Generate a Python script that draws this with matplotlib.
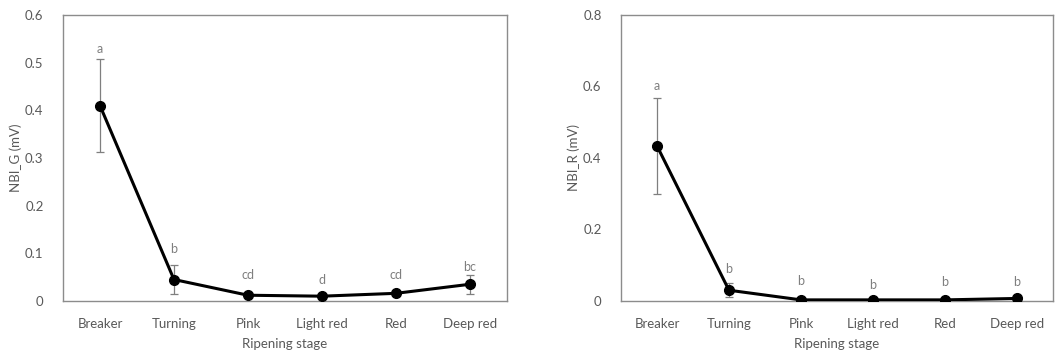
import matplotlib
matplotlib.use('Agg')
import matplotlib.pyplot as plt

stages = ['Breaker', 'Turning', 'Pink', 'Light red', 'Red', 'Deep red']

# NBI_G panel
nbi_g = [0.41, 0.045, 0.012, 0.010, 0.016, 0.035]
nbi_g_err = [0.097, 0.03, 0.004, 0.003, 0.004, 0.02]
nbi_g_letters = ['a', 'b', 'cd', 'd', 'cd', 'bc']
nbi_g_letter_y = [0.528, 0.110, 0.054, 0.044, 0.054, 0.072]

# NBI_R panel
nbi_r = [0.434, 0.03, 0.003, 0.003, 0.003, 0.007]
nbi_r_err = [0.134, 0.02, 0.002, 0.002, 0.002, 0.003]
nbi_r_letters = ['a', 'b', 'b', 'b', 'b', 'b']
nbi_r_letter_y = [0.600, 0.090, 0.057, 0.045, 0.054, 0.054]

plt.rcParams['font.family'] = ['Lato', 'DejaVu Sans']
txt = '#595959'
frame = '#8c8c8c'

fig = plt.figure(figsize=(10.62, 3.57), dpi=100)
ax1 = fig.add_axes([0.0593, 0.157, 0.418, 0.801])
ax2 = fig.add_axes([0.5847, 0.157, 0.4068, 0.801])


def panel(ax, vals, errs, letters, letter_y, ymax, yticks, ylab):
    x = [i + 0.5 for i in range(len(stages))]
    ax.errorbar(x, vals, yerr=errs, fmt='none', ecolor='#7f7f7f',
                elinewidth=0.9, capsize=3, capthick=0.9, zorder=2)
    ax.plot(x, vals, color='black', lw=2.2, marker='o', ms=7, zorder=3)
    for xi, lab, ly in zip(x, letters, letter_y):
        ax.text(xi, ly, lab, ha='center', va='center', fontsize=9, color='#7f7f7f')
    ax.set_xlim(0, len(stages))
    ax.set_ylim(0, ymax)
    ax.set_xticks(x)
    ax.set_xticklabels(stages)
    ax.set_yticks(yticks)
    ax.set_yticklabels(['0' if t == 0 else f'{t:g}' for t in yticks])
    ax.tick_params(length=0, labelsize=9.5, colors=txt)
    ax.tick_params(axis='x', pad=12)
    ax.tick_params(axis='y', pad=14)
    for s in ax.spines.values():
        s.set_color(frame)
        s.set_linewidth(1)
    ax.set_xlabel('Ripening stage', fontsize=9.5, color=txt, labelpad=6)
    ax.set_ylabel(ylab, fontsize=9.5, color=txt, labelpad=2)


panel(ax1, nbi_g, nbi_g_err, nbi_g_letters, nbi_g_letter_y, 0.6,
      [0, 0.1, 0.2, 0.3, 0.4, 0.5, 0.6], 'NBI_G (mV)')
panel(ax2, nbi_r, nbi_r_err, nbi_r_letters, nbi_r_letter_y, 0.8,
      [0, 0.2, 0.4, 0.6, 0.8], 'NBI_R (mV)')

fig.savefig('out.png', dpi=100)
